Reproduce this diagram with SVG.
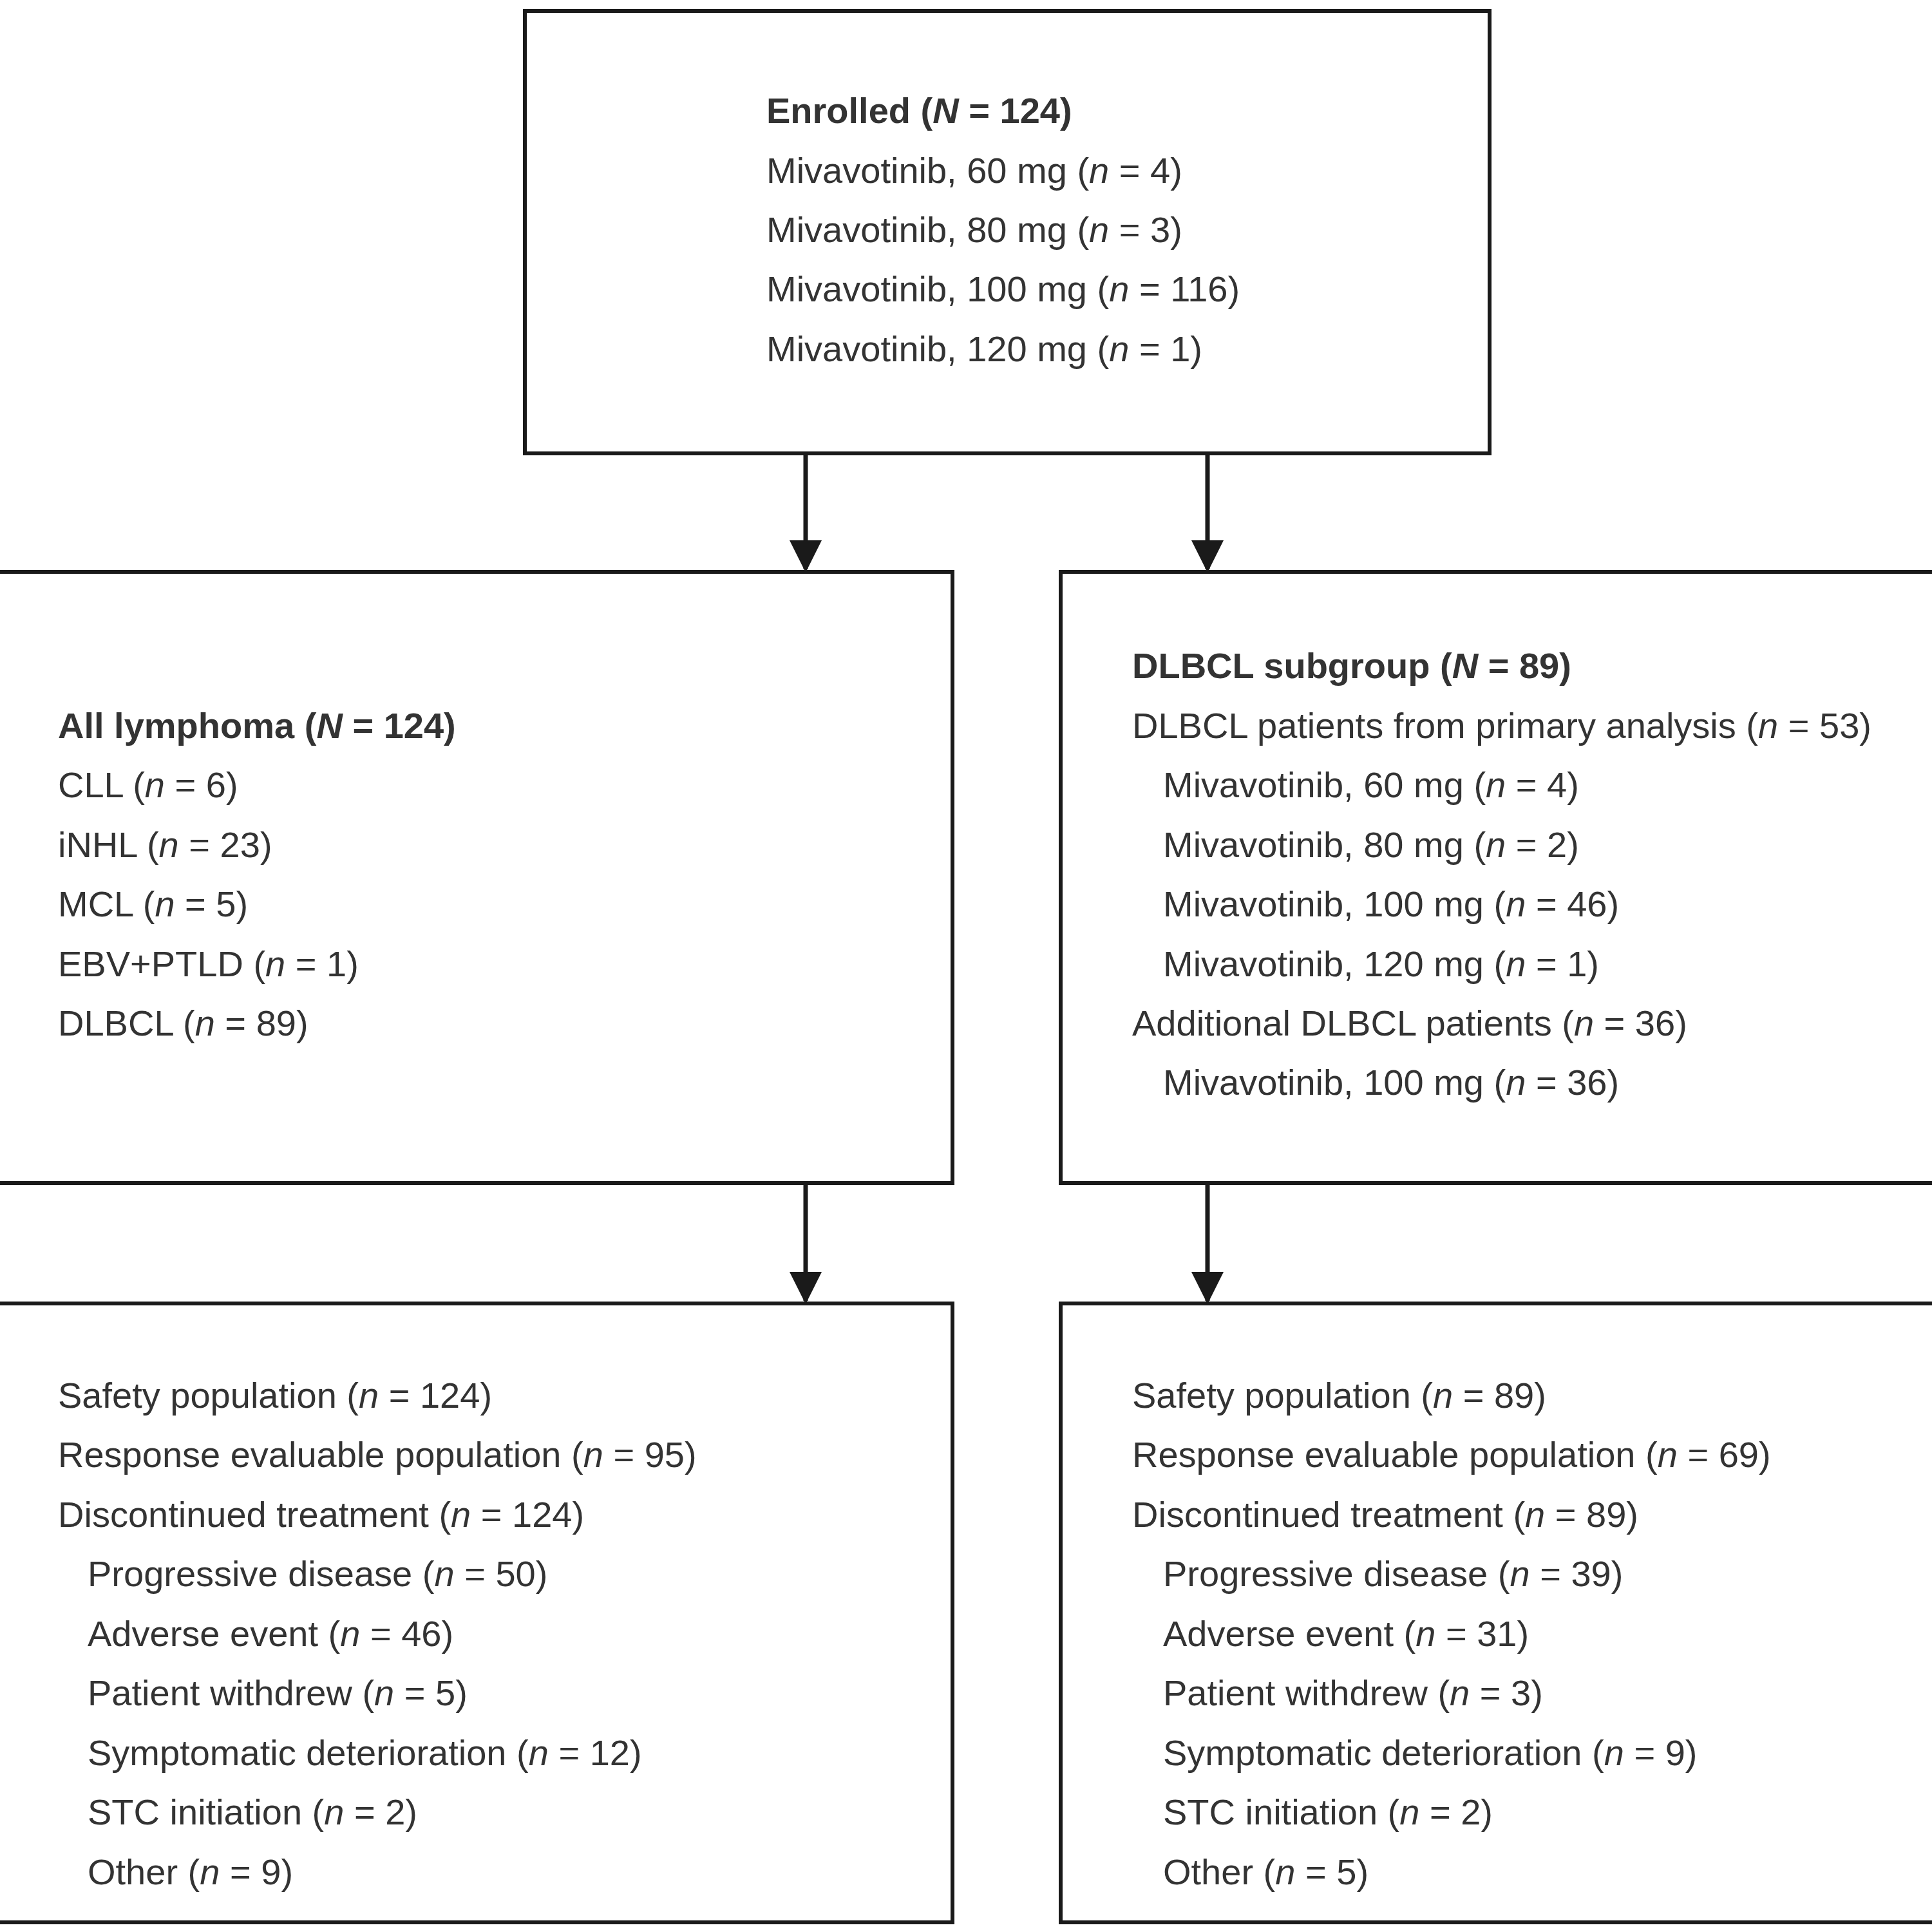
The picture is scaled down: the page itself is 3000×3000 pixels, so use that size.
<svg xmlns="http://www.w3.org/2000/svg" width="3000" height="3000" viewBox="0 0 3000 3000">
<style>
.b{fill:#fff;stroke:#1a1a1a;stroke-width:6}
text{font-family:"Liberation Sans",Arial,sans-serif;font-size:56px;fill:#333}
.h{font-weight:bold}
.c{stroke:#1a1a1a;stroke-width:7;fill:none}
</style>
<defs><marker id="a" markerWidth="10" markerHeight="10" refX="7" refY="5" orient="auto" markerUnits="userSpaceOnUse" viewBox="0 0 10 10"><path d="M0,0L10,5L0,10z" fill="#1a1a1a"/></marker>
<marker id="ah" viewBox="0 0 10 10" refX="9" refY="5" markerWidth="54" markerHeight="50" markerUnits="userSpaceOnUse" orient="auto"><path d="M0,0L10,5L0,10z" fill="#1a1a1a"/></marker></defs>
<rect fill="#fff" width="3000" height="3000"/>
<g id="connectors">
<path class="c" d="M1251,704V884" marker-end="url(#ah)"/>
<path class="c" d="M1875,704V884" marker-end="url(#ah)"/>
<path class="c" d="M1251,1837V2020" marker-end="url(#ah)"/>
<path class="c" d="M1875,1837V2020" marker-end="url(#ah)"/>
</g>
<g id="enrolled"><rect class="b" x="815" y="17" width="1498" height="687"/>
<text x="1190" y="191" class="h">Enrolled (<tspan font-style="italic">N</tspan> = 124)</text>
<text x="1190" y="284">Mivavotinib, 60 mg (<tspan font-style="italic">n</tspan> = 4)</text>
<text x="1190" y="376">Mivavotinib, 80 mg (<tspan font-style="italic">n</tspan> = 3)</text>
<text x="1190" y="468">Mivavotinib, 100 mg (<tspan font-style="italic">n</tspan> = 116)</text>
<text x="1190" y="561">Mivavotinib, 120 mg (<tspan font-style="italic">n</tspan> = 1)</text></g>
<g id="all"><rect class="b" x="-5" y="888" width="1484" height="949"/>
<text x="90" y="1146" class="h">All lymphoma (<tspan font-style="italic">N</tspan> = 124)</text>
<text x="90" y="1238">CLL (<tspan font-style="italic">n</tspan> = 6)</text>
<text x="90" y="1331">iNHL (<tspan font-style="italic">n</tspan> = 23)</text>
<text x="90" y="1423">MCL (<tspan font-style="italic">n</tspan> = 5)</text>
<text x="90" y="1516">EBV+PTLD (<tspan font-style="italic">n</tspan> = 1)</text>
<text x="90" y="1608">DLBCL (<tspan font-style="italic">n</tspan> = 89)</text></g>
<g id="dlbcl"><rect class="b" x="1647" y="888" width="1400" height="949"/>
<text x="1758" y="1053" class="h">DLBCL subgroup (<tspan font-style="italic">N</tspan> = 89)</text>
<text x="1758" y="1146">DLBCL patients from primary analysis (<tspan font-style="italic">n</tspan> = 53)</text>
<text x="1806" y="1238">Mivavotinib, 60 mg (<tspan font-style="italic">n</tspan> = 4)</text>
<text x="1806" y="1331">Mivavotinib, 80 mg (<tspan font-style="italic">n</tspan> = 2)</text>
<text x="1806" y="1423">Mivavotinib, 100 mg (<tspan font-style="italic">n</tspan> = 46)</text>
<text x="1806" y="1516">Mivavotinib, 120 mg (<tspan font-style="italic">n</tspan> = 1)</text>
<text x="1758" y="1608">Additional DLBCL patients (<tspan font-style="italic">n</tspan> = 36)</text>
<text x="1806" y="1700">Mivavotinib, 100 mg (<tspan font-style="italic">n</tspan> = 36)</text></g>
<g id="all-pop"><rect class="b" x="-5" y="2024" width="1484" height="961"/>
<text x="90" y="2186">Safety population (<tspan font-style="italic">n</tspan> = 124)</text>
<text x="90" y="2278">Response evaluable population (<tspan font-style="italic">n</tspan> = 95)</text>
<text x="90" y="2371">Discontinued treatment (<tspan font-style="italic">n</tspan> = 124)</text>
<text x="136" y="2463">Progressive disease (<tspan font-style="italic">n</tspan> = 50)</text>
<text x="136" y="2556">Adverse event (<tspan font-style="italic">n</tspan> = 46)</text>
<text x="136" y="2648">Patient withdrew (<tspan font-style="italic">n</tspan> = 5)</text>
<text x="136" y="2741">Symptomatic deterioration (<tspan font-style="italic">n</tspan> = 12)</text>
<text x="136" y="2833">STC initiation (<tspan font-style="italic">n</tspan> = 2)</text>
<text x="136" y="2926">Other (<tspan font-style="italic">n</tspan> = 9)</text></g>
<g id="dlbcl-pop"><rect class="b" x="1647" y="2024" width="1400" height="961"/>
<text x="1758" y="2186">Safety population (<tspan font-style="italic">n</tspan> = 89)</text>
<text x="1758" y="2278">Response evaluable population (<tspan font-style="italic">n</tspan> = 69)</text>
<text x="1758" y="2371">Discontinued treatment (<tspan font-style="italic">n</tspan> = 89)</text>
<text x="1806" y="2463">Progressive disease (<tspan font-style="italic">n</tspan> = 39)</text>
<text x="1806" y="2556">Adverse event (<tspan font-style="italic">n</tspan> = 31)</text>
<text x="1806" y="2648">Patient withdrew (<tspan font-style="italic">n</tspan> = 3)</text>
<text x="1806" y="2741">Symptomatic deterioration (<tspan font-style="italic">n</tspan> = 9)</text>
<text x="1806" y="2833">STC initiation (<tspan font-style="italic">n</tspan> = 2)</text>
<text x="1806" y="2926">Other (<tspan font-style="italic">n</tspan> = 5)</text></g>
</svg>
